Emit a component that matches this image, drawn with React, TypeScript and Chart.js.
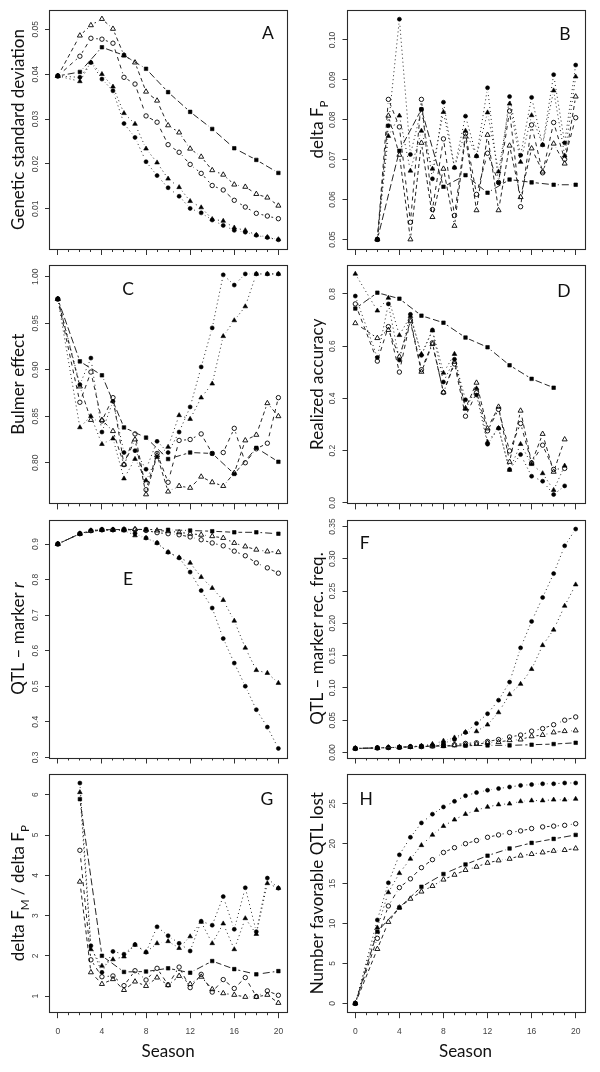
import React, { useEffect, useRef } from "react";
import { Chart, registerables } from "chart.js";

Chart.register(...registerables);

const N = null;
type V = number | null;

const SEASONS = [0, 1, 2, 3, 4, 5, 6, 7, 8, 9, 10, 11, 12, 13, 14, 15, 16, 17, 18, 19, 20];

// ---- Panel A: Genetic standard deviation ----
const A_sq: V[] = [0.0396, N, 0.0405, N, 0.046, N, 0.0442, N, 0.0412, N, 0.036, N, 0.0316, N, 0.0278, N, 0.0235, N, 0.0209, N, 0.018];
const A_fc: V[] = [0.0396, N, 0.0393, 0.0426, 0.0389, 0.0363, 0.029, 0.0259, 0.0205, 0.0174, 0.0147, 0.0128, 0.0101, 0.0091, 0.0075, 0.0063, 0.0052, 0.0048, 0.0041, 0.0036, 0.0031];
const A_ft: V[] = [0.0396, N, 0.0384, 0.0426, 0.04, 0.0372, 0.0313, 0.0289, 0.0234, 0.0203, 0.0167, 0.0148, 0.0117, 0.0103, 0.0077, 0.0073, 0.0058, 0.0052, 0.0042, 0.0037, 0.0032];
const A_oc: V[] = [0.0396, N, 0.044, 0.048, 0.0478, 0.0469, 0.0393, 0.0378, 0.0307, 0.0293, 0.0243, 0.0226, 0.0199, 0.0179, 0.0152, 0.0142, 0.0119, 0.0104, 0.009, 0.0084, 0.0078];
const A_ot: V[] = [0.0396, N, 0.0486, 0.0509, 0.0523, 0.0501, 0.0442, 0.0426, 0.0361, 0.0341, 0.0286, 0.027, 0.0234, 0.0216, 0.0186, 0.0176, 0.0154, 0.0149, 0.0133, 0.0125, 0.0107];

// ---- Panel B: delta F_P ----
const B_sq: V[] = [N, N, 0.05, N, 0.0722, N, 0.0826, N, 0.0632, N, 0.0661, N, 0.0617, N, 0.065, N, 0.0643, N, 0.0637, N, 0.0637];
const B_fc: V[] = [N, N, 0.05, 0.0785, 0.1052, 0.0713, 0.0826, 0.0652, 0.0844, 0.068, 0.0809, 0.0709, 0.088, 0.0642, 0.0858, 0.0711, 0.0856, 0.0737, 0.0913, 0.0742, 0.0937];
const B_ft: V[] = [N, N, 0.05, 0.0759, 0.081, 0.0672, 0.0772, 0.0677, 0.0819, 0.068, 0.0772, 0.0709, 0.0818, 0.067, 0.084, 0.0694, 0.0811, 0.0737, 0.0873, 0.071, 0.0908];
const B_oc: V[] = [N, N, 0.05, 0.0851, 0.0782, 0.0543, 0.0851, 0.0575, 0.0752, 0.056, 0.0765, 0.0613, 0.0716, 0.0643, 0.0822, 0.0582, 0.0787, 0.0667, 0.0793, 0.0701, 0.0805];
const B_ot: V[] = [N, N, 0.05, 0.081, 0.0712, 0.05, 0.0742, 0.0556, 0.0677, 0.0534, 0.0758, 0.0573, 0.0762, 0.0573, 0.0735, 0.0606, 0.0728, 0.067, 0.074, 0.069, 0.0858];

// ---- Panel C: Bulmer effect ----
const C_sq: V[] = [0.976, N, 0.909, N, 0.894, N, 0.838, N, 0.827, N, 0.804, N, 0.811, N, 0.81, N, 0.788, N, 0.816, N, 0.801];
const C_fc: V[] = [0.976, N, 0.884, 0.9125, 0.833, 0.866, 0.811, 0.813, 0.793, 0.823, 0.811, 0.833, 0.86, 0.903, 0.945, 1.002, 0.991, 1.003, 1.003, 1.003, 1.003];
const C_ft: V[] = [0.976, N, 0.838, 0.85, 0.82, 0.826, 0.783, 0.804, 0.781, 0.806, 0.817, 0.851, 0.847, 0.87, 0.885, 0.936, 0.953, 0.968, 1.003, 1.003, 1.003];
const C_oc: V[] = [0.976, N, 0.865, 0.8975, 0.845, 0.87, 0.798, 0.831, 0.771, 0.81, 0.779, 0.824, 0.825, 0.831, 0.81, 0.811, 0.837, 0.8, 0.815, 0.821, 0.87];
const C_ot: V[] = [0.976, N, 0.882, 0.846, 0.846, 0.834, 0.798, 0.825, 0.766, 0.808, 0.769, 0.775, 0.773, 0.785, 0.779, 0.775, 0.789, 0.824, 0.83, 0.864, 0.85];

// ---- Panel D: Realized accuracy ----
const D_sq: V[] = [0.744, N, 0.805, N, 0.782, N, 0.717, N, 0.69, N, 0.633, N, 0.596, N, 0.527, N, 0.475, N, 0.441, N, N];
const D_fc: V[] = [0.792, N, 0.557, 0.762, 0.547, 0.722, 0.565, 0.662, 0.463, 0.55, 0.395, 0.413, 0.225, 0.286, 0.128, 0.185, 0.102, 0.083, 0.032, 0.065, N];
const D_ft: V[] = [0.877, N, 0.736, 0.785, 0.642, 0.715, 0.57, 0.66, 0.498, 0.57, 0.36, 0.438, 0.233, 0.286, 0.126, 0.225, 0.148, 0.113, 0.049, 0.142, N];
const D_oc: V[] = [0.762, N, 0.543, 0.675, 0.501, 0.7, 0.51, 0.613, 0.423, 0.532, 0.332, 0.422, 0.276, 0.358, 0.199, 0.304, 0.153, 0.221, 0.128, 0.132, N];
const D_ot: V[] = [0.688, N, 0.631, 0.662, 0.56, 0.695, 0.502, 0.608, 0.423, 0.54, 0.362, 0.46, 0.285, 0.368, 0.157, 0.353, 0.153, 0.264, 0.119, 0.243, N];

// ---- Panel E: QTL - marker r ----
const E_sq: V[] = [0.9, N, 0.929, N, 0.94, N, 0.941, N, 0.941, N, 0.94, N, 0.938, N, 0.936, N, 0.933, N, 0.933, N, 0.929];
const E_fc: V[] = [0.9, N, 0.929, 0.9375, 0.94, 0.94, 0.94, 0.93, 0.917, 0.903, 0.877, 0.861, 0.821, 0.769, 0.72, 0.634, 0.565, 0.5, 0.434, 0.385, 0.325];
const E_ft: V[] = [0.9, N, 0.929, 0.9375, 0.94, 0.94, 0.938, 0.924, 0.917, 0.903, 0.877, 0.862, 0.847, 0.807, 0.776, 0.742, 0.684, 0.608, 0.545, 0.537, 0.509];
const E_oc: V[] = [0.9, N, 0.929, 0.9375, 0.94, 0.94, 0.94, 0.94, 0.938, 0.932, 0.929, 0.926, 0.92, 0.912, 0.903, 0.895, 0.88, 0.867, 0.847, 0.833, 0.818];
const E_ot: V[] = [0.9, N, 0.929, 0.9375, 0.94, 0.94, 0.941, 0.942, 0.94, 0.938, 0.936, 0.933, 0.929, 0.926, 0.922, 0.917, 0.903, 0.893, 0.884, 0.879, 0.877];

// ---- Panel F: QTL - marker rec. freq. ----
const F_sq: V[] = [0.0062, N, 0.007, N, 0.008, N, 0.0095, N, 0.01, N, 0.0105, N, 0.011, N, 0.011, N, 0.012, N, 0.013, N, 0.015];
const F_fc: V[] = [0.0062, N, 0.007, 0.0078, 0.008, 0.009, 0.01, 0.011, 0.014, 0.02, 0.031, 0.045, 0.06, 0.081, 0.109, 0.162, 0.203, 0.24, 0.277, 0.32, 0.346];
const F_ft: V[] = [0.0062, N, 0.007, 0.0078, 0.008, 0.009, 0.01, 0.013, 0.018, 0.023, 0.0315, 0.0326, 0.043, 0.062, 0.09, 0.106, 0.129, 0.166, 0.19, 0.227, 0.26];
const F_oc: V[] = [0.0062, N, 0.007, 0.0075, 0.008, 0.009, 0.009, 0.01, 0.011, 0.012, 0.014, 0.015, 0.017, 0.02, 0.024, 0.027, 0.033, 0.037, 0.043, 0.05, 0.055];
const F_ot: V[] = [0.0062, N, 0.007, 0.0075, 0.008, 0.0085, 0.009, 0.0095, 0.01, 0.011, 0.012, 0.013, 0.015, 0.016, 0.019, 0.02, 0.025, 0.027, 0.031, 0.033, 0.034];

// ---- Panel G: delta F_M / delta F_P ----
const G_sq: V[] = [N, N, 5.89, N, 2.0, N, 1.6, N, 1.61, N, 1.69, N, 1.58, N, 1.87, N, 1.67, N, 1.54, N, 1.62];
const G_fc: V[] = [N, N, 6.29, 2.25, 1.59, 2.11, 2.04, 2.28, 2.09, 2.72, 2.5, 2.31, 2.12, 2.86, 2.76, 3.47, 2.66, 3.69, 2.6, 3.93, 3.68];
const G_ft: V[] = [N, N, 6.06, 2.16, 1.75, 1.91, 1.98, 2.27, 2.09, 2.31, 2.36, 2.19, 2.48, 2.84, 2.31, 2.8, 2.16, 2.93, 2.54, 3.8, 3.68];
const G_oc: V[] = [N, N, 4.62, 1.9, 1.48, 1.5, 1.26, 1.63, 1.4, 1.69, 1.28, 1.72, 1.21, 1.54, 1.1, 1.41, 1.19, 1.46, 0.99, 1.13, 1.02];
const G_ot: V[] = [N, N, 3.84, 1.59, 1.3, 1.42, 1.15, 1.36, 1.25, 1.46, 1.27, 1.5, 1.3, 1.48, 1.17, 1.07, 1.03, 0.98, 0.98, 1.03, 0.83];

// ---- Panel H: Number favorable QTL lost ----
const H_sq: V[] = [0, N, 8.99, N, 12.0, N, 14.6, N, 16.2, N, 17.4, N, 18.5, N, 19.4, N, 20.1, N, 20.6, N, 21.1];
const H_fc: V[] = [0, N, 10.45, 15.1, 18.6, 20.8, 22.6, 23.7, 24.6, 25.3, 26.0, 26.4, 26.7, 26.9, 27.1, 27.3, 27.4, 27.5, 27.5, 27.6, 27.6];
const H_ft: V[] = [0, N, 9.49, 13.9, 16.3, 18.1, 19.8, 21.1, 22.2, 23.0, 23.7, 24.2, 24.6, 24.9, 25.0, 25.3, 25.4, 25.4, 25.5, 25.5, 25.6];
const H_oc: V[] = [0, N, 8.15, 12.2, 14.5, 15.6, 17.0, 18.0, 18.9, 19.5, 20.0, 20.4, 20.8, 21.1, 21.4, 21.6, 21.9, 22.1, 22.2, 22.3, 22.5];
const H_ot: V[] = [0, N, 6.81, 10.2, 12.0, 13.1, 14.0, 14.7, 15.5, 16.1, 16.7, 17.1, 17.6, 17.9, 18.1, 18.5, 18.7, 18.9, 19.1, 19.2, 19.4];

const X_TICK_LABELS = ["0", "4", "8", "12", "16", "20"];
const X_AXIS_TITLE = "Season";

// ---- layout / style ----
const TICK_FONT = '"Liberation Sans", Arial, sans-serif';
const TITLE_FONT = 'Lato, "Open Sans", sans-serif';
const INK = "#262626";

const COL_CANVAS_LEFT = [0, 300];
const COL_FRAME = [
  [49, 287.2],
  [346.5, 584.5],
];
const ROW_CANVAS_TOP = [0, 255, 509, 764];
const ROW_CANVAS_H = [256, 256, 256, 308];
const ROW_FRAME = [
  [10, 249],
  [265, 503.4],
  [519.5, 757.5],
  [774.2, 1012.2],
];
const TITLE_X = [18, 317];
const X_LABEL_BAND = 30;
const GAP_R = 4.2; // R type="b": lines stop short of each symbol

type Seg = { t: string; sub?: boolean; it?: boolean };

interface PanelSpec {
  id: string;
  col: number;
  row: number;
  yMin: number;
  yMax: number;
  yStep: number;
  yDec: number;
  title: Seg[];
  letter: [number, number];
  xLabels: boolean;
  series: V[][]; // sq, fc, ft, oc, ot
}

const PANELS: PanelSpec[] = [
  { id: "A", col: 0, row: 0, yMin: 0.00105, yMax: 0.0543, yStep: 0.01, yDec: 2, title: [{ t: "Genetic standard deviation" }], letter: [268, 33], xLabels: false, series: [A_sq, A_fc, A_ft, A_oc, A_ot] },
  { id: "B", col: 1, row: 0, yMin: 0.0476, yMax: 0.1075, yStep: 0.01, yDec: 2, title: [{ t: "delta F" }, { t: "P", sub: true }], letter: [565, 33.5], xLabels: false, series: [B_sq, B_fc, B_ft, B_oc, B_ot] },
  { id: "C", col: 0, row: 1, yMin: 0.7563, yMax: 1.0126, yStep: 0.05, yDec: 2, title: [{ t: "Bulmer effect" }], letter: [128, 289], xLabels: false, series: [C_sq, C_fc, C_ft, C_oc, C_ot] },
  { id: "D", col: 1, row: 1, yMin: -0.002, yMax: 0.911, yStep: 0.2, yDec: 1, title: [{ t: "Realized accuracy" }], letter: [564, 290.5], xLabels: false, series: [D_sq, D_fc, D_ft, D_oc, D_ot] },
  { id: "E", col: 0, row: 2, yMin: 0.2995, yMax: 0.969, yStep: 0.1, yDec: 1, title: [{ t: "QTL \u2013 marker " }, { t: "r", it: true }], letter: [128, 579], xLabels: false, series: [E_sq, E_fc, E_ft, E_oc, E_ot] },
  { id: "F", col: 1, row: 2, yMin: -0.0078, yMax: 0.3608, yStep: 0.05, yDec: 2, title: [{ t: "QTL \u2013 marker rec. freq." }], letter: [364.7, 542.7], xLabels: false, series: [F_sq, F_fc, F_ft, F_oc, F_ot] },
  { id: "G", col: 0, row: 3, yMin: 0.6, yMax: 6.51, yStep: 1, yDec: 0, title: [{ t: "delta F" }, { t: "M", sub: true }, { t: " / delta F" }, { t: "P", sub: true }], letter: [267, 799], xLabels: true, series: [G_sq, G_fc, G_ft, G_oc, G_ot] },
  { id: "H", col: 1, row: 3, yMin: -1.1, yMax: 28.7, yStep: 5, yDec: 0, title: [{ t: "Number favorable QTL lost" }], letter: [366.3, 799], xLabels: true, series: [H_sq, H_fc, H_ft, H_oc, H_ot] },
];

const SERIES_STYLE = [
  { pointStyle: "rect", radius: 2.5, fill: "#000", dash: [7, 3], bw: 0.6 },
  { pointStyle: "circle", radius: 2.0, fill: "#000", dash: [1, 3], bw: 0.6 },
  { pointStyle: "triangle", radius: 2.7, fill: "#000", dash: [1, 3], bw: 0.6 },
  { pointStyle: "circle", radius: 2.2, fill: "rgba(0,0,0,0)", dash: [4, 4], bw: 0.9 },
  { pointStyle: "triangle", radius: 2.9, fill: "rgba(0,0,0,0)", dash: [4, 3], bw: 0.9 },
];

function toPoints(arr: V[]) {
  const pts: { x: number; y: number }[] = [];
  SEASONS.forEach((s, i) => {
    const v = arr[i];
    if (v !== null && v !== undefined) pts.push({ x: s, y: v });
  });
  return pts;
}

function drawRich(ctx: CanvasRenderingContext2D, segs: Seg[], cx: number, cy: number, size: number, rotate: boolean) {
  ctx.save();
  ctx.translate(cx, cy);
  if (rotate) ctx.rotate(-Math.PI / 2);
  const parts = segs.map((s) => {
    const fs = s.sub ? size * 0.68 : size;
    const font = `${s.it ? "italic " : ""}${fs}px ${TITLE_FONT}`;
    ctx.font = font;
    return { s, font, w: ctx.measureText(s.t).width, dy: s.sub ? size * 0.28 : 0 };
  });
  const total = parts.reduce((a, p) => a + p.w, 0);
  let x = -total / 2;
  ctx.textAlign = "left";
  ctx.textBaseline = "alphabetic";
  ctx.fillStyle = "#111";
  for (const p of parts) {
    ctx.font = p.font;
    ctx.fillText(p.s.t, x, size * 0.36 + p.dy);
    x += p.w;
  }
  ctx.restore();
}

function makeConfig(p: PanelSpec): any {
  const cl = COL_CANVAS_LEFT[p.col];
  const ct = ROW_CANVAS_TOP[p.row];
  const ch = ROW_CANVAS_H[p.row];
  const [fl, fr] = COL_FRAME[p.col];
  const [ftop, fbot] = ROW_FRAME[p.row];
  const xBand = p.xLabels ? X_LABEL_BAND : 0;
  const padding = { left: fl - cl, right: cl + 300 - fr, top: ftop - ct, bottom: ct + ch - fbot - xBand };

  // each series: a line-only dataset (with gaps at the symbols) and a symbol-only dataset
  const datasets: any[] = [];
  p.series.forEach((arr, i) => {
    const st = SERIES_STYLE[i];
    const pts = toPoints(arr);
    datasets.push({
      data: pts,
      borderColor: INK,
      borderWidth: 1,
      borderDash: st.dash,
      pointRadius: 0,
      fill: false,
      tension: 0,
      showLine: true,
      xAxisID: "x",
      yAxisID: "y",
      gapLine: true,
    });
    datasets.push({
      data: pts,
      showLine: false,
      pointStyle: st.pointStyle,
      pointRadius: st.radius,
      pointBackgroundColor: st.fill,
      pointBorderColor: "#000",
      pointBorderWidth: st.bw,
      xAxisID: "x",
      yAxisID: "y",
    });
  });

  const panelPlugin = {
    id: "panelDecor" + p.id,
    beforeDatasetDraw(chart: any, args: any) {
      const ds = chart.data.datasets[args.index];
      if (!ds.gapLine) return;
      const ctx: CanvasRenderingContext2D = chart.ctx;
      ctx.save();
      ctx.beginPath();
      ctx.rect(0, 0, chart.width, chart.height);
      for (const el of args.meta.data) {
        ctx.moveTo(el.x + GAP_R, el.y);
        ctx.arc(el.x, el.y, GAP_R, 0, Math.PI * 2);
      }
      ctx.clip("evenodd");
    },
    afterDatasetDraw(chart: any, args: any) {
      const ds = chart.data.datasets[args.index];
      if (!ds.gapLine) return;
      chart.ctx.restore();
    },
    afterDraw(chart: any) {
      const ctx: CanvasRenderingContext2D = chart.ctx;
      const ca = chart.chartArea;
      // frame box
      ctx.save();
      ctx.strokeStyle = "#2a2a2a";
      ctx.lineWidth = 1.1;
      ctx.strokeRect(Math.round(ca.left) + 0.5, Math.round(ca.top) + 0.5, Math.round(ca.right - ca.left), Math.round(ca.bottom - ca.top));
      ctx.restore();

      // y tick labels, rotated like R's las=0
      const ys = chart.scales.y;
      ctx.save();
      ctx.fillStyle = "#444";
      ctx.font = `8.5px ${TICK_FONT}`;
      ctx.textAlign = "center";
      ctx.textBaseline = "middle";
      for (const t of ys.ticks) {
        const py = ys.getPixelForValue(t.value);
        ctx.save();
        ctx.translate(ca.left - 13.5, py);
        ctx.rotate(-Math.PI / 2);
        ctx.fillText(Number(t.value).toFixed(p.yDec), 0, 0);
        ctx.restore();
      }
      ctx.restore();

      // y-axis title
      drawRich(ctx, p.title, TITLE_X[p.col] - cl, (ca.top + ca.bottom) / 2, 17, true);

      // panel letter
      drawRich(ctx, [{ t: p.id }], p.letter[0] - cl, p.letter[1] - ct, 17.5, false);

      // x-axis title
      if (p.xLabels) {
        drawRich(ctx, [{ t: X_AXIS_TITLE }], (ca.left + ca.right) / 2, 1050.5 - ct, 17, false);
      }
    },
  };

  const tickFont = { family: TICK_FONT, size: 8.5 };

  return {
    type: "line",
    data: { datasets },
    options: {
      responsive: false,
      animation: false,
      events: [],
      layout: { padding },
      plugins: { legend: { display: false }, tooltip: { enabled: false }, title: { display: false } },
      scales: {
        x2: {
          type: "linear",
          position: "bottom",
          weight: -1,
          min: -0.8,
          max: 20.8,
          afterFit: (s: any) => {
            s.height = 0;
          },
          ticks: { stepSize: 1, includeBounds: false, autoSkip: false, display: false },
          grid: { drawOnChartArea: false, drawTicks: true, tickLength: 3, tickColor: "#333", tickWidth: 1 },
          border: { display: false },
        },
        x: {
          type: "linear",
          position: "bottom",
          weight: 0,
          min: -0.8,
          max: 20.8,
          afterFit: (s: any) => {
            s.height = xBand;
          },
          ticks: {
            stepSize: 4,
            includeBounds: false,
            autoSkip: false,
            display: p.xLabels,
            minRotation: 0,
            maxRotation: 0,
            padding: 8.5,
            color: "#444",
            font: tickFont,
            callback: (v: number) => X_TICK_LABELS[Math.round(v / 4)] ?? "",
          },
          grid: { drawOnChartArea: false, drawTicks: true, tickLength: 6, tickColor: "#333", tickWidth: 1 },
          border: { display: false },
        },
        y: {
          type: "linear",
          position: "left",
          min: p.yMin,
          max: p.yMax,
          afterFit: (s: any) => {
            s.width = 0;
          },
          ticks: { stepSize: p.yStep, includeBounds: false, autoSkip: false, display: false },
          grid: { drawOnChartArea: false, drawTicks: true, tickLength: 4, tickColor: "#333", tickWidth: 1 },
          border: { display: false },
        },
      },
    },
    plugins: [panelPlugin],
  };
}

function Panel({ p }: { p: PanelSpec }) {
  const ref = useRef<HTMLCanvasElement | null>(null);
  useEffect(() => {
    if (!ref.current) return;
    const chart = new Chart(ref.current, makeConfig(p));
    return () => chart.destroy();
  }, [p]);
  const left = COL_CANVAS_LEFT[p.col];
  const top = ROW_CANVAS_TOP[p.row];
  const h = ROW_CANVAS_H[p.row];
  return <canvas ref={ref} width={300} height={h} style={{ position: "absolute", left, top, width: 300, height: h }} />;
}

export default function App() {
  return (
    <div style={{ position: "absolute", left: 0, top: 0, width: 600, height: 1072, background: "#fff", overflow: "hidden" }}>
      {PANELS.map((p) => (
        <Panel key={p.id} p={p} />
      ))}
    </div>
  );
}
